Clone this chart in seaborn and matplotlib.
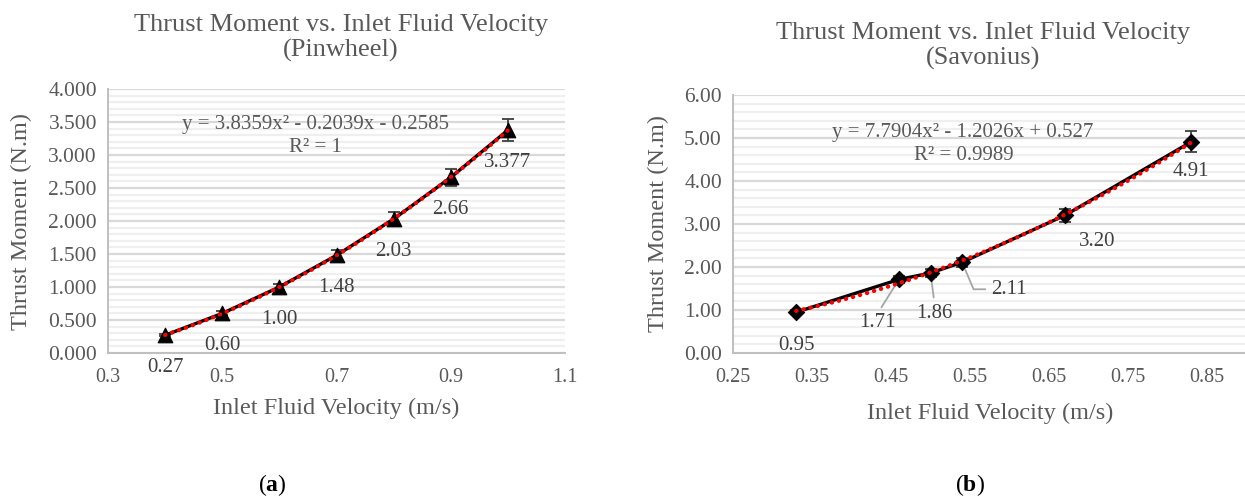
import numpy as np
import pandas as pd
import seaborn as sns
import matplotlib
matplotlib.use("Agg")
import matplotlib.pyplot as plt
from matplotlib.ticker import MultipleLocator, FixedLocator, FormatStrFormatter

# ---- data ---------------------------------------------------------------
pin_velocity = [0.4, 0.5, 0.6, 0.7, 0.8, 0.9, 1.0]
pin_moment = [0.27, 0.60, 1.00, 1.48, 2.03, 2.66, 3.377]
pin_labels = ["0.27", "0.60", "1.00", "1.48", "2.03", "2.66", "3.377"]
pin_coef = [3.8359, -0.2039, -0.2585]
pin_eq = "y = 3.8359x² - 0.2039x - 0.2585"
pin_r2 = "R² = 1"

sav_velocity = [0.33, 0.46, 0.50, 0.54, 0.67, 0.83]
sav_moment = [0.95, 1.71, 1.86, 2.11, 3.20, 4.91]
sav_labels = ["0.95", "1.71", "1.86", "2.11", "3.20", "4.91"]
sav_coef = [7.7904, -1.2026, 0.527]
sav_eq = "y = 7.7904x² - 1.2026x + 0.527"
sav_r2 = "R² = 0.9989"

error_pct = 5.0  # percentage error bars

pin_xticks = [0.3, 0.5, 0.7, 0.9, 1.1]
sav_xticks = [0.25, 0.35, 0.45, 0.55, 0.65, 0.75, 0.85]

title_main = "Thrust Moment vs. Inlet Fluid Velocity"
x_title = "Inlet Fluid Velocity (m/s)"
y_title = "Thrust Moment (N.m)"

# ---- style --------------------------------------------------------------
sns.set_theme(style="white")
plt.rcParams["font.family"] = ["Liberation Serif", "DejaVu Serif"]
plt.rcParams["mathtext.fontset"] = "custom"
plt.rcParams["mathtext.rm"] = "Liberation Serif"
plt.rcParams["mathtext.bf"] = "Liberation Serif:bold"

TXT = "#595959"
LBL = "#404040"
AXC = "#bfbfbf"
MAJ = "#d9d9d9"
MIN = "#efefef"

W, H = 1245, 501
fig = plt.figure(figsize=(W / 100, H / 100), dpi=100)


def fx(px):
    return px / W


def fy(py):
    return 1 - py / H


def style_axes(ax, ylim, ymaj, ymin, yfmt, xlim, xticks, xfmt):
    ax.set_xlim(*xlim)
    ax.set_ylim(*ylim)
    ax.xaxis.set_major_locator(FixedLocator(xticks))
    ax.xaxis.set_major_formatter(FormatStrFormatter(xfmt))
    ax.yaxis.set_major_locator(MultipleLocator(ymaj))
    ax.yaxis.set_minor_locator(MultipleLocator(ymin))
    ax.yaxis.set_major_formatter(FormatStrFormatter(yfmt))
    ax.grid(False)
    ax.grid(True, axis="y", which="major", color=MAJ, lw=1.6)
    ax.grid(True, axis="y", which="minor", color=MIN, lw=1.6)
    ax.set_axisbelow(True)
    for s in ["top", "right"]:
        ax.spines[s].set_visible(False)
    for s in ["left", "bottom"]:
        ax.spines[s].set_color(AXC)
        ax.spines[s].set_linewidth(1.4)
    ax.tick_params(axis="both", which="major", direction="out", length=5,
                   width=1.2, color=AXC, labelcolor=TXT)
    ax.tick_params(axis="x", labelsize=14.5, pad=6)
    ax.tick_params(axis="y", labelsize=15.5, pad=3)
    ax.tick_params(axis="both", which="minor", length=0)
    ax.set_xlabel("")
    ax.set_ylabel("")


def draw_series(ax, xs, ys, coef, marker, msize):
    df = pd.DataFrame({"v": xs, "m": ys})
    err = np.array(ys) * error_pct / 100.0
    ax.errorbar(xs, ys, yerr=err, fmt="none", ecolor=LBL, elinewidth=1.3,
                capsize=4, capthick=1.3, zorder=3)
    sns.lineplot(data=df, x="v", y="m", ax=ax, color="black", lw=2.4,
                 zorder=4, legend=False)
    sns.scatterplot(data=df, x="v", y="m", ax=ax, marker=marker, s=msize,
                    color="black", edgecolor="black", zorder=5, legend=False)
    # quadratic trendline from the fitted coefficients
    xt = np.linspace(min(xs), max(xs), 200)
    yt = np.polyval(coef, xt)
    ax.plot(xt, yt, color="#ff0000", lw=3.0, linestyle=(0, (0.1, 1.65)),
            dash_capstyle="round", zorder=6)


# ---- (a) Pinwheel -------------------------------------------------------
ax1 = fig.add_axes([fx(108), fy(353), fx(565 - 108), (353 - 89) / H])
draw_series(ax1, pin_velocity, pin_moment, pin_coef, "^", 110)
style_axes(ax1, (0, 4), 0.5, 0.1, "%.3f", (0.3, 1.1), pin_xticks, "%.1f")
for x, y, t in zip(pin_velocity, pin_moment, pin_labels):
    ax1.annotate(t, (x, y), xytext=(0, -32), textcoords="offset pixels",
                 ha="center", va="center", fontsize=15, color=LBL)

fig.text(fx(341), fy(38), title_main + "\n(Pinwheel)", ha="center",
         va="center", fontsize=19, color=TXT, linespacing=1.17)
fig.text(fx(315), fy(125), pin_eq, ha="center", va="center", fontsize=15,
         color=TXT)
fig.text(fx(315), fy(148), pin_r2, ha="center", va="center", fontsize=15,
         color=TXT)
fig.text(fx(336), fy(408), x_title, ha="center", va="center", fontsize=17.5,
         color=TXT)
fig.text(fx(21), fy(221), y_title, ha="center", va="center", fontsize=17.5,
         color=TXT, rotation=90)
fig.text(fx(272), fy(485), r"($\mathbf{a}$)", ha="center", va="center",
         fontsize=17, color="black")

# ---- (b) Savonius -------------------------------------------------------
sav_xmax = 0.25 + 512 / 790
ax2 = fig.add_axes([fx(733), fy(353), fx(512), (353 - 95) / H])
draw_series(ax2, sav_velocity, sav_moment, sav_coef, "D", 70)
style_axes(ax2, (0, 6), 1.0, 0.2, "%.2f", (0.25, sav_xmax), sav_xticks, "%.2f")

sav_offsets = [(0, -33), (-21, -43), (4, -40), (47, -27), (32, -26), (0, -30)]
sav_leader = [None,
              dict(relpos=(0.5, 1.0), shrinkA=2, shrinkB=5),
              dict(relpos=(0.5, 1.0), shrinkA=2, shrinkB=5),
              dict(relpos=(0.0, 0.5), shrinkA=2, shrinkB=6,
                   connectionstyle="angle,angleA=0,angleB=-67,rad=0"),
              None, None]
for x, y, t, off, ld in zip(sav_velocity, sav_moment, sav_labels,
                            sav_offsets, sav_leader):
    kw = {}
    if ld is not None:
        kw["arrowprops"] = dict(arrowstyle="-", color="#a6a6a6", lw=1.3, **ld)
    ax2.annotate(t, (x, y), xytext=off, textcoords="offset pixels",
                 ha="center", va="center", fontsize=15, color=LBL, **kw)

fig.text(fx(983), fy(46), title_main + "\n(Savonius)", ha="center",
         va="center", fontsize=19, color=TXT, linespacing=1.17)
fig.text(fx(963), fy(132), sav_eq, ha="center", va="center", fontsize=15,
         color=TXT)
fig.text(fx(964), fy(155), sav_r2, ha="center", va="center", fontsize=15,
         color=TXT)
fig.text(fx(990), fy(413), x_title, ha="center", va="center", fontsize=17.5,
         color=TXT)
fig.text(fx(658), fy(224), y_title, ha="center", va="center", fontsize=17.5,
         color=TXT, rotation=90)
fig.text(fx(970), fy(485), r"($\mathbf{b}$)", ha="center", va="center",
         fontsize=17, color="black")

fig.savefig("out.png", dpi=100)
